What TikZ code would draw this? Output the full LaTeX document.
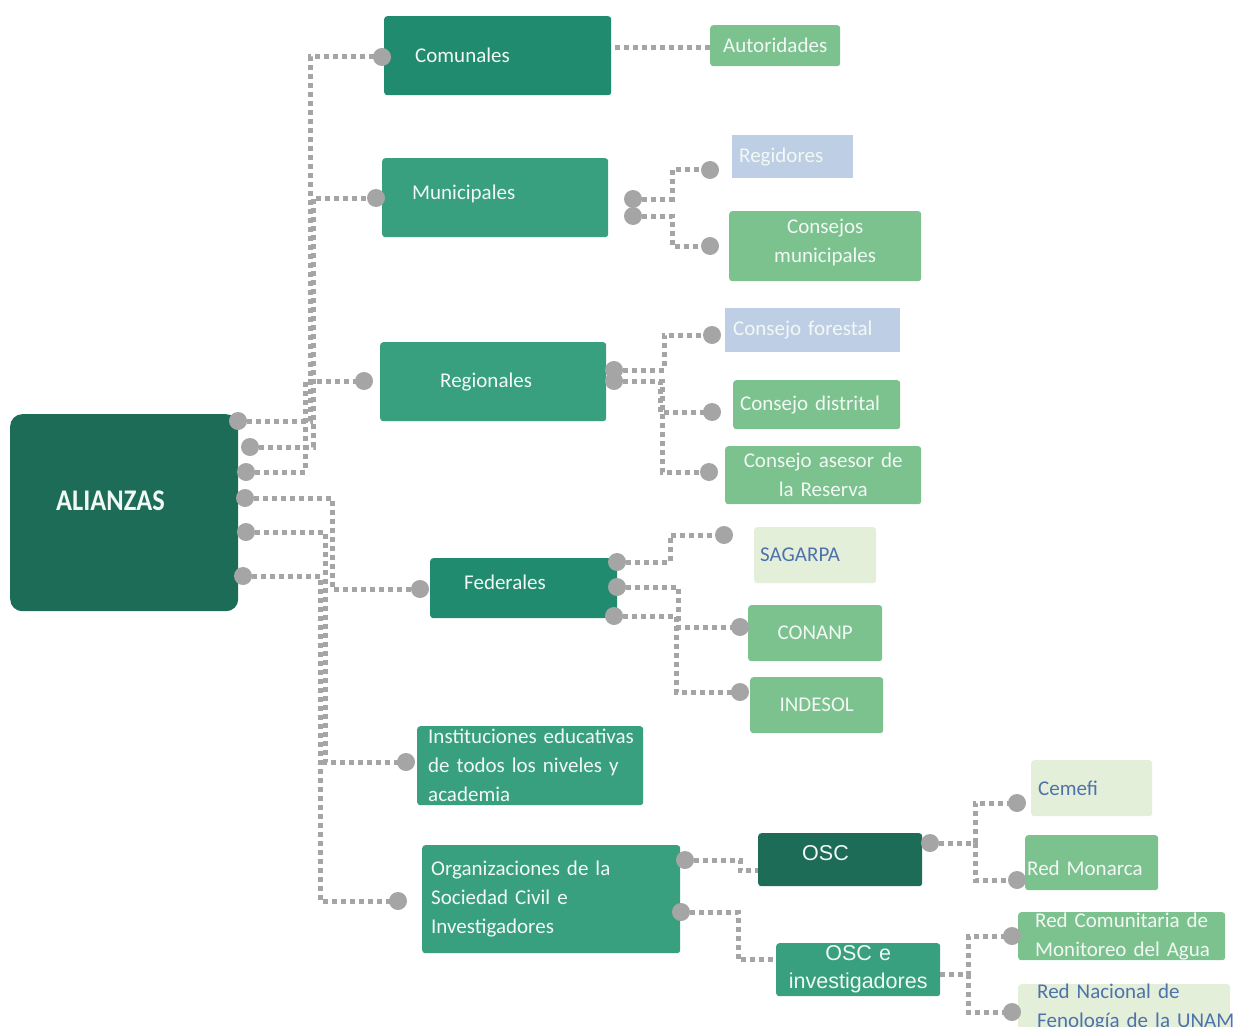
\documentclass[tikz,border=0pt]{standalone}
\usepackage{fontspec}
\usepackage{graphicx}
\newfontfamily\carl{Carlito}
\newfontfamily\arl{Liberation Sans}
\usetikzlibrary{backgrounds,calc}
\definecolor{cdark}{HTML}{1C6C58}
\definecolor{cmid}{HTML}{218B6F}
\definecolor{clite}{HTML}{38A07E}
\definecolor{lgreen}{HTML}{7CC28F}
\definecolor{lblue}{HTML}{BECEE5}
\definecolor{pale}{HTML}{E4EFDA}
\definecolor{bluetxt}{HTML}{4E72AC}
\definecolor{txtw}{HTML}{F2F8F3}
\definecolor{conngray}{HTML}{A5A5A5}
\begin{document}
\begin{tikzpicture}[x=1pt,y=-1pt,
  box/.style={rectangle, rounded corners=3pt, anchor=north west, inner ysep=0pt,
    text=txtw, font=\carl\fontsize{21}{29}\selectfont},
  lbox/.style={box, align=left},
  cbox/.style={box, align=center, inner xsep=4pt},
  conn/.style={draw=conngray, line width=5pt, dash pattern=on 5pt off 4pt},
  dot/.style={circle, fill=conngray, minimum size=18pt, inner sep=0pt}]
\useasboundingbox (0,0) rectangle (1233,1027);

% main box
\node[lbox, fill=cdark, rounded corners=12pt, minimum height=197pt, inner xsep=46pt,
  text width=136pt, text height=20pt, text depth=24pt,
  font=\carl\bfseries\fontsize{30}{34}\selectfont] (ali) at (10,414) {\scalebox{0.88}[1]{ALIANZAS}};

% first level
\node[lbox, fill=cmid, minimum height=79pt, inner xsep=31pt, text width=165pt] (com) at (384,16) {Comunales};
\node[lbox, fill=clite, minimum height=79pt, inner xsep=30pt, text width=166pt,
  text height=16pt, text depth=12pt] (mun) at (382,158) {Municipales};
\node[lbox, fill=clite, minimum height=79pt, inner xsep=60pt, text width=106pt] (rgl) at (380,342) {Regionales};
\node[lbox, fill=cmid, minimum height=60pt, inner xsep=34pt, text width=119pt,
  text height=15.5pt, text depth=12pt] (fed) at (430,558) {Federales};
\node[lbox, fill=clite, minimum height=79pt, inner xsep=11pt, text width=204pt] (ins) at (417,726)
  {\mbox{Instituciones educativas}\\de todos los niveles y\\academia};
\node[lbox, fill=clite, minimum height=108pt, inner xsep=9pt, text width=240pt] (org) at (422,845)
  {Organizaciones de la\\Sociedad Civil e\\Investigadores};

% second level
\node[lbox, fill=lgreen, minimum height=41pt, inner xsep=13pt, text width=104pt] (aut) at (710,25) {Autoridades};
\node[lbox, fill=lblue, rounded corners=0pt, minimum height=43pt, inner xsep=7pt, text width=107pt] (rgd) at (732,135) {Regidores};
\node[cbox, fill=lgreen, minimum height=70pt, text width=184pt,
  text height=15.5pt, text depth=41.5pt] (cmu) at (729,211) {Consejos\\municipales};
\node[lbox, fill=lblue, rounded corners=0pt, minimum height=44pt, inner xsep=8pt, text width=159pt] (cfo) at (725,308) {Consejo forestal};
\node[lbox, fill=lgreen, minimum height=49pt, inner xsep=7pt, text width=153pt] (cdi) at (733,380) {Consejo distrital};
\node[cbox, fill=lgreen, minimum height=58pt, text width=188pt] (cas) at (725,446) {\mbox{Consejo asesor de}\\la Reserva};
\node[lbox, fill=pale, text=bluetxt, minimum height=56pt, inner xsep=6pt, text width=110pt] (sag) at (754,527) {SAGARPA};
\node[cbox, fill=lgreen, minimum height=56pt, text width=126pt] (con) at (748,605) {CONANP};
\node[cbox, fill=lgreen, minimum height=56pt, text width=125pt] (ind) at (750,677) {INDESOL};
\node[lbox, fill=cdark, minimum height=53pt, inner xsep=44pt, text width=76pt,
  text height=15.5pt, text depth=14pt, font=\arl\fontsize{21.5}{28}\selectfont] (osc) at (758,833) {OSC};
\node[cbox, fill=clite, minimum height=53pt, text width=156pt,
  font=\arl\fontsize{21.5}{28}\selectfont] (osi) at (776,943) {OSC e\\investigadores};

% third level
\node[lbox, fill=pale, text=bluetxt, minimum height=56pt, inner xsep=7pt, text width=107pt] (cem) at (1031,760) {Cemefi};
\node[lbox, fill=lgreen, minimum height=55pt, inner xsep=2pt, text width=129pt,
  text height=26pt, text depth=0pt] (rmo) at (1025,835) {Red Monarca};
\node[lbox, fill=lgreen, minimum height=48pt, inner xsep=17pt, text width=173pt] (rco) at (1018,912)
  {\mbox{Red Comunitaria de}\\\mbox{Monitoreo del Agua}};
\node[lbox, fill=pale, text=bluetxt, minimum height=60pt, inner xsep=19pt, text width=174pt,
  text height=14pt, text depth=50pt] (rna) at (1018,984)
  {\mbox{Red Nacional de}\\\mbox{Fenología de la UNAM}};

% connector ends
\node[dot] (a1) at (238,421) {};
\node[dot] (a2) at (250,447) {};
\node[dot] (a3) at (246,472) {};
\node[dot] (a4) at (245,498) {};
\node[dot] (a5) at (246,532) {};
\node[dot] (a6) at (243,576) {};
\node[dot] (c0) at (382,57) {};
\node[dot] (m0) at (376,198) {};
\node[dot] (r0) at (364,381) {};
\node[dot] (f0) at (420,589) {};
\node[dot] (i0) at (406,762) {};
\node[dot] (o0) at (398,901) {};
\node[dot] (m1) at (633,199) {};
\node[dot] (m2) at (633,216) {};
\node[dot] (dRg) at (710,170) {};
\node[dot] (dCm) at (710,246) {};
\node[dot] (r1) at (614,370) {};
\node[dot] (r2) at (614,381) {};
\node[dot] (dCf) at (712,335) {};
\node[dot] (dCd) at (712,412) {};
\node[dot] (dCa) at (709,472) {};
\node[dot] (f1) at (617,562) {};
\node[dot] (f2) at (617,587) {};
\node[dot] (f3) at (614,616) {};
\node[dot] (dSg) at (724,535) {};
\node[dot] (dCn) at (740,627) {};
\node[dot] (dIn) at (740,692) {};
\node[dot] (o1) at (685,860) {};
\node[dot] (o2) at (681,912) {};
\node[dot] (d1) at (930,843) {};
\node[dot] (dCe) at (1017,803) {};
\node[dot] (dRm) at (1017,880) {};
\node[dot] (dRc) at (1012,936) {};
\node[dot] (dRn) at (1012,1012) {};

\begin{scope}[on background layer]
  % ALIANZAS to first level
  \draw[conn] (a1.center) -- ++(72,0) |- (c0.center);
  \draw[conn] (a2.center) -- ++(63,0) |- (m0.center);
  \draw[conn] (a3.center) -- ++(59,0) |- (r0.center);
  \draw[conn] (a4.center) -- ++(87,0) |- (f0.center);
  \draw[conn] (a5.center) -- ++(79,0) |- (i0.center);
  \draw[conn] (a6.center) -- ++(77,0) |- (o0.center);
  % Comunales
  \draw[conn] ($(com.east)+(4,-8)$) coordinate (q) -- (q -| aut.west);
  % Municipales
  \draw[conn] (m1.center) -- ++(39,0) |- (dRg.center);
  \draw[conn] (m2.center) -- ++(39,0) |- (dCm.center);
  % Regionales
  \draw[conn] (r1.center) -- ++(50,0) |- (dCf.center);
  \draw[conn] (r2.center) -- ++(46,0) |- (dCd.center);
  \draw[conn] (r2.center) -- ++(48,0) |- (dCa.center);
  % Federales
  \draw[conn] (f1.center) -- ++(53,0) |- (dSg.center);
  \draw[conn] (f2.center) -- ++(61,0) |- (dCn.center);
  \draw[conn] (f3.center) -- ++(62,0) |- (dIn.center);
  % Organizaciones
  \draw[conn] (o1.center) -- ++(55,0) |- ($(osc.west)+(0,11)$);
  \draw[conn] (o2.center) -- ++(57,0) |- ($(osi.west)+(0,-10)$);
  % OSC
  \draw[conn] (d1.center) -- ++(45,0) |- (dCe.center);
  \draw[conn] (d1.center) -- ++(45,0) |- (dRm.center);
  % OSC e investigadores
  \draw[conn] ($(osi.east)+(0,5)$) -- ++(28,0) |- (dRc.center);
  \draw[conn] ($(osi.east)+(0,5)$) -- ++(28,0) |- (dRn.center);
\end{scope}
\end{tikzpicture}
\end{document}
